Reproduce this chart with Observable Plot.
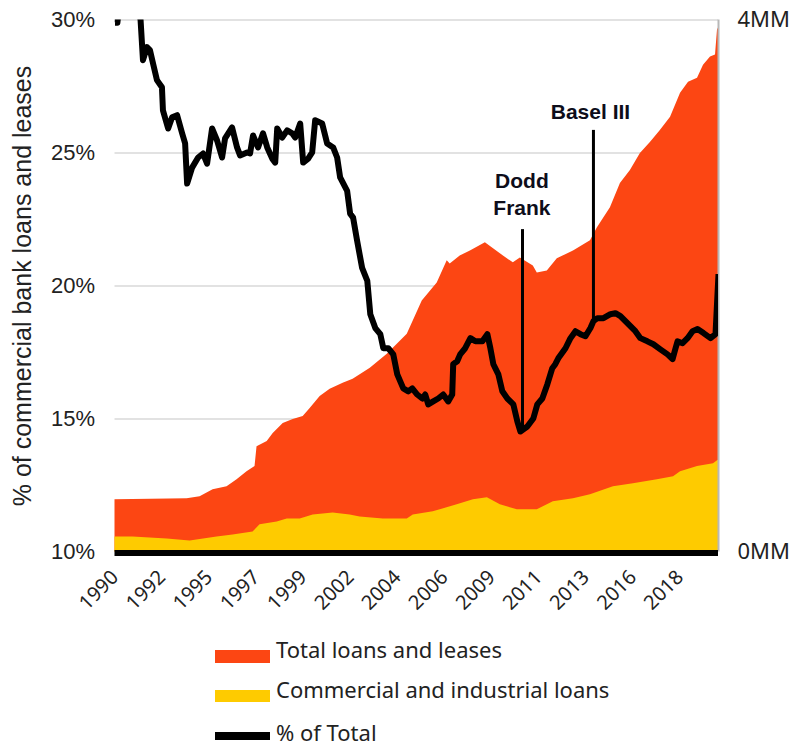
<!DOCTYPE html>
<html><head><meta charset="utf-8">
<script src="https://cdn.jsdelivr.net/npm/d3@7"></script>
<script src="https://cdn.jsdelivr.net/npm/@observablehq/plot@0.6"></script>
<style>
body{margin:0;background:#fff;}
#wrap{position:relative;width:794px;height:746px;overflow:hidden;background:#fff;}
#wrap svg{display:block;}
</style></head><body><div id="wrap"></div>
<script>
// % of Total (C&I share of commercial bank loans), decimal year -> percent
const pctYears = [1990.00,1990.12,1990.25,1991.10,1991.28,1991.40,1991.60,1991.75,1991.90,1992.10,1992.35,1992.40,1992.66,1992.86,1993.11,1993.36,1993.51,1993.61,1993.86,1994.16,1994.41,1994.61,1994.86,1995.11,1995.36,1995.51,1995.86,1996.11,1996.26,1996.61,1996.76,1996.91,1997.16,1997.41,1997.62,1997.87,1998.02,1998.12,1998.37,1998.62,1998.87,1999.02,1999.27,1999.42,1999.67,1999.87,2000.02,2000.37,2000.62,2000.92,2001.12,2001.27,2001.62,2001.77,2001.92,2002.12,2002.37,2002.63,2002.78,2003.03,2003.28,2003.43,2003.68,2003.93,2004.13,2004.43,2004.68,2004.88,2005.13,2005.38,2005.53,2005.68,2005.93,2006.18,2006.43,2006.68,2006.88,2006.93,2007.13,2007.28,2007.53,2007.79,2008.04,2008.39,2008.64,2008.79,2008.94,2009.19,2009.39,2009.64,2009.94,2010.14,2010.29,2010.64,2010.94,2011.14,2011.39,2011.64,2011.89,2012.04,2012.19,2012.55,2012.80,2013.05,2013.30,2013.55,2013.80,2013.95,2014.15,2014.45,2014.80,2015.05,2015.30,2015.55,2015.80,2016.05,2016.30,2016.65,2016.95,2017.30,2017.66,2017.91,2018.06,2018.16,2018.41,2018.66,2018.91,2019.16,2019.46,2019.81,2020.06,2020.21];
const pctValues = [29.90,29.90,30.80,30.80,30.00,28.49,28.98,28.87,28.38,27.74,27.47,26.60,25.92,26.34,26.42,25.74,25.36,23.85,24.45,24.83,24.98,24.60,25.92,25.47,24.83,25.55,25.96,25.21,24.91,25.02,24.98,25.66,25.21,25.74,25.21,24.79,24.64,25.92,25.58,25.85,25.74,25.58,26.11,24.64,24.79,25.02,26.23,26.11,25.36,25.21,24.83,24.08,23.58,22.72,22.57,21.70,20.68,20.19,18.94,18.42,18.19,17.66,17.66,17.43,16.68,16.15,16.04,16.15,15.92,15.77,15.92,15.55,15.66,15.77,15.92,15.66,15.92,17.06,17.17,17.43,17.66,18.04,17.92,17.92,18.19,17.66,17.06,16.68,16.04,15.77,15.55,14.91,14.53,14.72,15.02,15.55,15.77,16.30,16.91,17.06,17.28,17.66,18.04,18.30,18.19,18.11,18.42,18.68,18.79,18.79,18.94,18.98,18.87,18.68,18.49,18.30,18.04,17.92,17.81,17.62,17.43,17.25,17.66,17.92,17.85,18.04,18.30,18.38,18.23,18.04,18.19,20.45];

// Total loans and leases (right axis, MM)
const totalYears = [1990.00,1993.61,1994.26,1994.91,1995.61,1996.11,1996.61,1997.01,1997.11,1997.62,1997.92,1998.42,1998.92,1999.42,1999.77,2000.27,2000.77,2001.42,2001.92,2002.78,2003.63,2004.63,2005.38,2006.13,2006.63,2006.78,2007.28,2007.79,2008.54,2009.29,2009.94,2010.29,2010.94,2011.14,2011.64,2012.14,2012.95,2013.80,2014.15,2014.80,2015.30,2015.80,2016.30,2016.80,2017.30,2017.81,2018.31,2018.71,2019.16,2019.46,2019.81,2020.06,2020.16,2020.21];
const totalValues = [0.392,0.400,0.415,0.468,0.491,0.543,0.604,0.642,0.792,0.830,0.891,0.966,0.996,1.019,1.079,1.170,1.223,1.268,1.298,1.381,1.487,1.638,1.887,2.023,2.189,2.166,2.226,2.264,2.325,2.242,2.174,2.211,2.151,2.098,2.113,2.204,2.264,2.340,2.438,2.589,2.770,2.868,2.996,3.079,3.170,3.268,3.449,3.532,3.562,3.660,3.721,3.736,3.925,3.940];

// Commercial and industrial loans (right axis, MM)
const ciYears = [1990.00,1990.90,1992.61,1993.76,1995.11,1995.91,1996.91,1997.26,1998.12,1998.62,1999.27,1999.92,2000.92,2001.77,2002.27,2003.43,2004.63,2004.93,2005.93,2007.13,2007.94,2008.64,2009.29,2010.14,2011.14,2011.94,2012.95,2013.80,2014.95,2015.95,2017.15,2017.96,2018.31,2019.16,2019.96,2020.16,2020.21];
const ciValues = [0.113,0.113,0.098,0.083,0.113,0.128,0.151,0.204,0.226,0.249,0.249,0.279,0.294,0.279,0.264,0.249,0.249,0.279,0.302,0.355,0.392,0.408,0.355,0.317,0.317,0.377,0.400,0.430,0.491,0.513,0.543,0.566,0.604,0.642,0.664,0.687,0.690];

const xTickYears = [1990.00,1992.36,1994.71,1997.07,1999.43,2001.79,2004.14,2006.50,2008.86,2011.21,2013.57,2015.93,2018.28];
const xTickLabels = ["1990","1992","1995","1997","1999","2002","2004","2006","2009","2011","2013","2016","2018"];
const leftTicks = [10,15,20,25,30];
const leftTickLabels = ["10%","15%","20%","25%","30%"];
const rightTicksMM = [0,4];
const rightTickLabels = ["0MM","4MM"];
const gridTicks = [15,20,25,30];

const annotations = [
  {label:"Dodd\nFrank", year:2010.40, top:22.12, bottom:14.60, textYear:2010.37, textY:23.51},
  {label:"Basel III", year:2013.95, top:25.85, bottom:18.70, textYear:2013.80, textY:26.62}
];

const seriesNames = ["Total loans and leases","Commercial and industrial loans","% of Total"];
const seriesColors = ["#FC4613","#FECB00","#000000"];

// map right-axis MM onto the left-axis percent domain (0MM = 10%, 4MM = 30%)
const mmToPct = mm => 10 + mm * 5;

const pctData = pctYears.map((t, i) => ({t, v: pctValues[i]}));
const totalData = totalYears.map((t, i) => ({t, v: mmToPct(totalValues[i])}));
const ciData = ciYears.map((t, i) => ({t, v: mmToPct(ciValues[i])}));
const xEnd = pctYears[pctYears.length - 1];

const chart = Plot.plot({
  width: 794,
  height: 630,
  marginLeft: 114.5,
  marginRight: 76,
  marginTop: 19.5,
  marginBottom: 78.5,
  x: {type: "linear", domain: [1990, xEnd]},
  y: {domain: [10, 30]},
  style: {fontFamily: "Liberation Sans, Arial, sans-serif", background: "#fff", color: "#222"},
  marks: [
    Plot.ruleY(gridTicks, {stroke: "#d9d9d9", strokeWidth: 1.5}),
    Plot.areaY(totalData, {x: "t", y1: 10, y2: "v", fill: seriesColors[0]}),
    Plot.areaY(ciData, {x: "t", y1: 10, y2: "v", fill: seriesColors[1]}),
    Plot.ruleX([xEnd], {y1: 10, y2: 30, stroke: "#b8b8b8", strokeWidth: 2}),
    Plot.ruleY([10], {stroke: "#000", strokeWidth: 6, dy: 1}),
    Plot.ruleX(annotations, {x: "year", y1: "bottom", y2: "top", stroke: "#000", strokeWidth: 3}),
    Plot.line(pctData, {x: "t", y: "v", stroke: seriesColors[2], strokeWidth: 6, strokeLinejoin: "round", strokeLinecap: "butt", clip: true}),
    Plot.text(annotations, {x: "textYear", y: "textY", text: "label", fontSize: 21, fontWeight: "bold", fill: "#0d0d1a", lineHeight: 1.28, lineAnchor: "middle", textAnchor: "middle"}),
    Plot.axisY(leftTicks, {anchor: "left", tickSize: 0, tickPadding: 20, tickFormat: d => leftTickLabels[leftTicks.indexOf(d)], fontSize: 22, fill: "#222", label: null}),
    Plot.text(rightTicksMM, {x: xEnd, y: d => mmToPct(d), text: d => rightTickLabels[rightTicksMM.indexOf(d)], dx: 19, textAnchor: "start", fontSize: 22, fontFamily: "Noto Sans", fill: "#222"}),
    Plot.axisX(xTickYears, {anchor: "bottom", tickSize: 0, tickPadding: 22, tickRotate: -45, tickFormat: d => xTickLabels[xTickYears.indexOf(d)], fontSize: 20, fontFamily: "Noto Sans", fill: "#222", label: null}),
    Plot.text(["% of commercial bank loans and leases"], {frameAnchor: "left", textAnchor: "middle", dx: -92, rotate: -90, fontSize: 25, fill: "#222"})
  ]
});
const wrap = document.getElementById("wrap");
wrap.appendChild(chart);

// legend below the plot
const leg = d3.select(wrap).append("svg").attr("width", 794).attr("height", 116);
const rows = [{y: 20, h: 13, base: 28}, {y: 60, h: 12, base: 68}, {y: 102, h: 8, base: 111}];
seriesNames.forEach((name, i) => {
  leg.append("rect").attr("x", 215).attr("y", rows[i].y).attr("width", 55).attr("height", rows[i].h).attr("fill", seriesColors[i]);
  leg.append("text").attr("x", 276).attr("y", rows[i].base).attr("font-family", "Noto Sans").attr("font-size", 22).attr("fill", "#222").text(name);
});
</script></body></html>
